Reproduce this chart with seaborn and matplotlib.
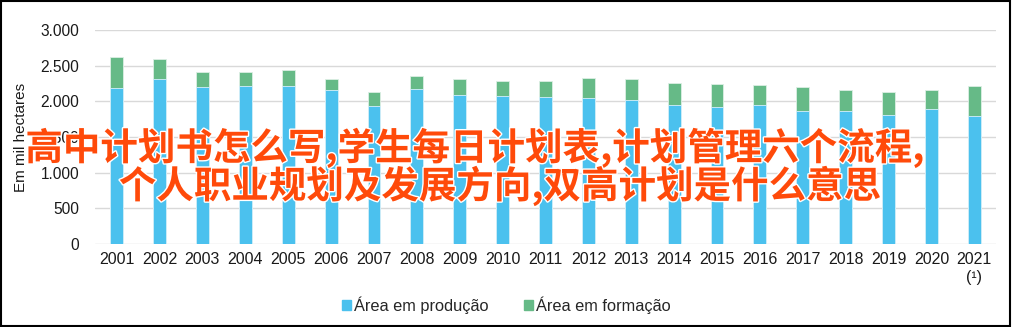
import matplotlib
matplotlib.use("Agg")
import matplotlib.pyplot as plt
import matplotlib.patheffects as pe
from matplotlib.patches import Rectangle
from matplotlib.ticker import FuncFormatter
import seaborn as sns
import pandas as pd

years = ["2001", "2002", "2003", "2004", "2005", "2006", "2007", "2008", "2009", "2010",
         "2011", "2012", "2013", "2014", "2015", "2016", "2017", "2018", "2019", "2020", "2021\n(¹)"]
producao = [2182, 2309, 2196, 2210, 2219, 2154, 1935, 2168, 2089, 2080,
            2056, 2052, 2014, 1944, 1916, 1944, 1860, 1860, 1809, 1888, 1799]
formacao = [435, 284, 211, 206, 216, 164, 191, 192, 224, 210,
            225, 275, 295, 313, 332, 280, 346, 299, 322, 276, 416]
series_names = ["Área em produção", "Área em formação"]
y_label = "Em mil hectares"
watermark = ["高中计划书怎么写,学生每日计划表,计划管理六个流程,",
             "个人职业规划及发展方向,双高计划是什么意思"]

blue = "#4BC1EE"
green = "#66BA87"

sns.set_theme(style="white")
plt.rcParams["font.family"] = ["Liberation Sans", "DejaVu Sans"]

df = pd.DataFrame({"ano": years, "prod": producao,
                   "total": [p + f for p, f in zip(producao, formacao)]})

fig = plt.figure(figsize=(10.13, 3.27), dpi=100)
ax = fig.add_axes([0.094, 0.254, 0.889, 0.654])

sns.barplot(data=df, x="ano", y="total", color=green, width=0.3, saturation=1,
            edgecolor="#DDEFE4", linewidth=0.6, ax=ax, zorder=2)
sns.barplot(data=df, x="ano", y="prod", color=blue, width=0.3, saturation=1,
            edgecolor="#D6F0FB", linewidth=0.6, ax=ax, zorder=3)

ax.set_ylim(0, 3000)
ax.set_xlim(-0.5, len(years) - 0.5)
ax.set_yticks(range(0, 3001, 500))
ax.yaxis.set_major_formatter(FuncFormatter(lambda v, p: f"{int(v):,}".replace(",", ".")))
ax.grid(axis="y", color="#D9D9D9", linewidth=1.0, zorder=0)
ax.grid(axis="x", visible=False)
for s in ax.spines.values():
    s.set_visible(False)
ax.tick_params(axis="both", length=0, colors="#1a1a1a")
ax.tick_params(axis="y", pad=11.5, labelsize=11.2)
ax.tick_params(axis="x", pad=6, labelsize=11.5)
ax.set_xlabel("")
ax.set_ylabel(y_label, fontsize=11, color="#1a1a1a")
ax.yaxis.set_label_coords(-0.075, 0.5)

handles = [Rectangle((0, 0), 1, 1, color=blue), Rectangle((0, 0), 1, 1, color=green)]
fig.legend(handles, series_names, loc="center", bbox_to_anchor=(0.5, 0.067), ncol=2,
           frameon=False, fontsize=11.8, handlelength=0.55, handleheight=0.55,
           handletextpad=0.15, columnspacing=2.2)

fig.add_artist(Rectangle((0.001, 0.004), 0.996, 0.992, transform=fig.transFigure,
                         fill=False, edgecolor="black", linewidth=1.5))

for txt, x, y in [(watermark[0], 475 / 1013, 1 - 148 / 327), (watermark[1], 500 / 1013, 1 - 186 / 327)]:
    fig.text(x, y, txt, ha="center", va="center", fontsize=27, fontweight="bold",
             color="#FF4A0A", family=["Noto Sans CJK SC", "DejaVu Sans"],
             path_effects=[pe.withStroke(linewidth=2, foreground="white")], zorder=10)

fig.savefig("out.png", dpi=100)
